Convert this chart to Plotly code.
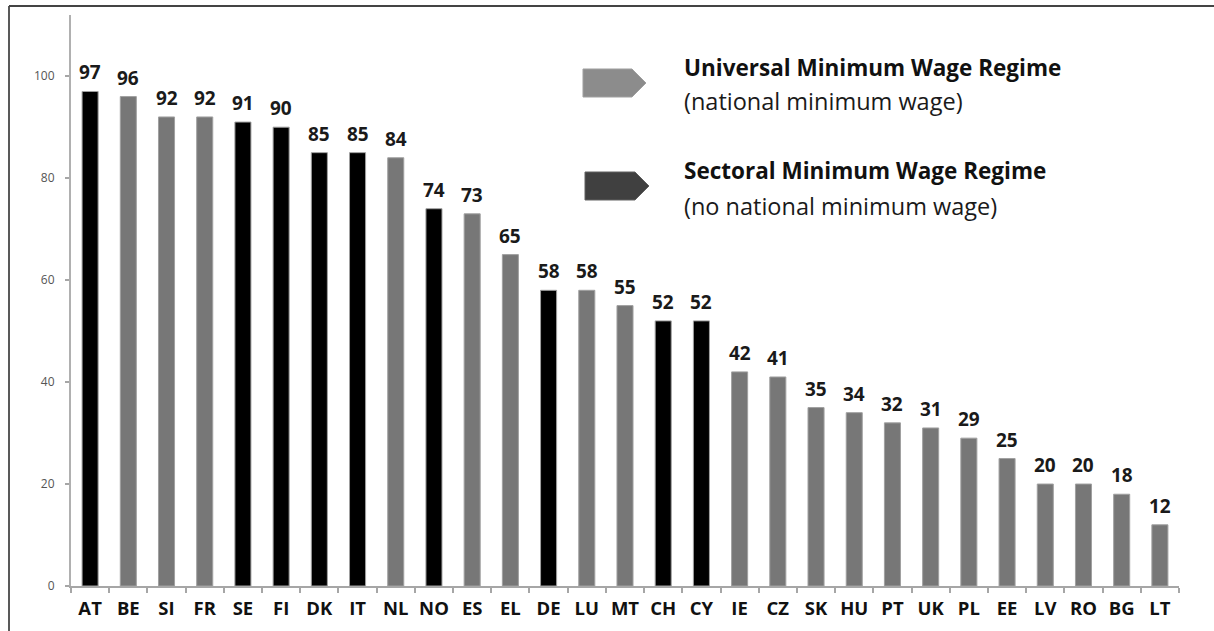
import plotly.graph_objects as go

countries = ["AT", "BE", "SI", "FR", "SE", "FI", "DK", "IT", "NL", "NO", "ES", "EL", "DE", "LU", "MT",
             "CH", "CY", "IE", "CZ", "SK", "HU", "PT", "UK", "PL", "EE", "LV", "RO", "BG", "LT"]
values = [97, 96, 92, 92, 91, 90, 85, 85, 84, 74, 73, 65, 58, 58, 55,
          52, 52, 42, 41, 35, 34, 32, 31, 29, 25, 20, 20, 18, 12]
# S = sectoral regime (no national minimum wage), U = universal regime
regime = ["S", "U", "U", "U", "S", "S", "S", "S", "U", "S", "U", "U", "S", "U", "U",
          "S", "S", "U", "U", "U", "U", "U", "U", "U", "U", "U", "U", "U", "U"]
legend_titles = ["Universal Minimum Wage Regime", "Sectoral Minimum Wage Regime"]
legend_subtitles = ["(national minimum wage)", "(no national minimum wage)"]
y_ticks = [0, 20, 40, 60, 80, 100]

W, H = 1214, 631
L, R, T, B = 71, 35, 15, 45
PW, PH = W - L - R, H - T - B

def px(x):
    return (x - L) / PW

def py(y):
    return (H - B - y) / PH

bar_colors = {"S": "#000000", "U": "#777777"}
FONT = "Open Sans"

fig = go.Figure()
fig.add_trace(go.Bar(
    x=countries, y=values,
    marker=dict(color=[bar_colors[r] for r in regime], line=dict(color="#a0a0a0", width=1)),
    width=0.42, hoverinfo="x+y", showlegend=False,
))

annotations = []
for c, v in zip(countries, values):
    annotations.append(dict(x=c, y=v, xref="x", yref="y", text=f"<b>{v}</b>", showarrow=False,
                            yanchor="bottom", yshift=4,
                            font=dict(family=FONT, size=19, color="#1a1a1a")))

legend_y = [(67, 101), (171, 206)]
for (yt, ys), t, s in zip(legend_y, legend_titles, legend_subtitles):
    annotations.append(dict(x=px(682), y=py(yt), xref="paper", yref="paper", text=f"<b>{t}</b>",
                            showarrow=False, xanchor="left", yanchor="middle",
                            font=dict(family=FONT, size=22.5, color="#111111")))
    annotations.append(dict(x=px(682), y=py(ys), xref="paper", yref="paper", text=s,
                            showarrow=False, xanchor="left", yanchor="middle",
                            font=dict(family=FONT, size=23.5, color="#1a1a1a")))

def arrow_path(x0, x1, x2, y0, y1):
    ym = (y0 + y1) / 2
    pts = [(x0, y0), (x1, y0), (x2, ym), (x1, y1), (x0, y1)]
    return "M " + " L ".join(f"{px(a):.5f},{py(b):.5f}" for a, b in pts) + " Z"

shapes = [
    dict(type="path", xref="paper", yref="paper", path=arrow_path(583, 632, 646, 69, 97),
         fillcolor="#8c8c8c", line=dict(color="#a0a0a0", width=1)),
    dict(type="path", xref="paper", yref="paper", path=arrow_path(585, 635, 649, 172, 200),
         fillcolor="#404040", line=dict(color="#606060", width=1)),
    # outer frame
    dict(type="line", xref="paper", yref="paper", x0=px(9), x1=px(9), y0=py(6), y1=py(H + 10),
         line=dict(color="#222222", width=1.5)),
    dict(type="line", xref="paper", yref="paper", x0=px(9), x1=px(W + 10), y0=py(6), y1=py(6),
         line=dict(color="#444444", width=2)),
]

fig.update_layout(
    width=W, height=H,
    margin=dict(l=L, r=R, t=T, b=B),
    paper_bgcolor="white", plot_bgcolor="white",
    bargap=0.58,
    annotations=annotations,
    shapes=shapes,
    xaxis=dict(
        showline=True, linecolor="#a6a6a6", linewidth=2,
        ticks="outside", tickson="boundaries", ticklen=5, tickcolor="#a6a6a6", tickwidth=1.5,
        tickfont=dict(family=FONT, size=18.5, color="#111111"), tickangle=0,
        tickprefix="<b>", ticksuffix="</b>", ticklabelstandoff=5,
        showgrid=False, zeroline=False, fixedrange=True,
    ),
    yaxis=dict(
        range=[0, 112], tickvals=y_ticks,
        showline=True, linecolor="#b0b0b0", linewidth=2,
        ticks="outside", ticklen=4, tickcolor="#a6a6a6", tickwidth=1.5,
        tickfont=dict(family=FONT, size=12, color="#555555"),
        ticklabelstandoff=8,
        showgrid=False, zeroline=False, fixedrange=True,
    ),
    font=dict(family=FONT),
)

fig.write_html("out.html", config={"displayModeBar": False},
               post_script="document.body.style.margin='0';")
